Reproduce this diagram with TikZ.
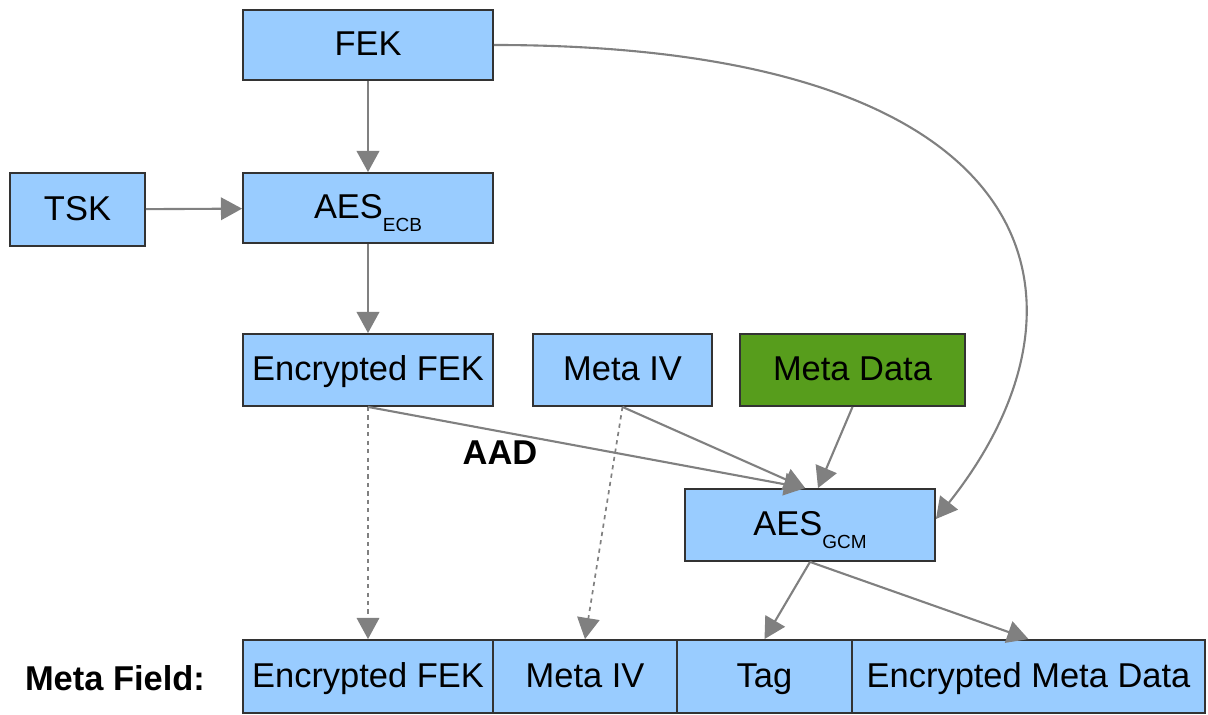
\documentclass[tikz,border=0pt]{standalone}
\usepackage{fontspec}
\setmainfont{Liberation Sans}
\usetikzlibrary{arrows.meta}
\definecolor{boxblue}{HTML}{99CCFF}
\definecolor{boxgreen}{HTML}{579D1C}
\definecolor{boxline}{HTML}{333333}
\definecolor{arrgray}{HTML}{808080}
\newcommand{\aesmode}[1]{AES\raisebox{-9pt}{\fontsize{13.5}{15}\selectfont #1}}

\begin{document}
\begin{tikzpicture}[
  x=0.025cm, y=-0.025cm,
  blk/.style={
    draw=boxline, fill=boxblue, line width=1.3pt,
    inner sep=0pt, minimum width=6.25cm, minimum height=1.8cm,
    text height=17.5pt, text depth=2pt,
    font=\fontsize{24.5}{28}\selectfont
  },
  arr/.style={
    draw=arrgray, line width=1.5pt,
    -{Triangle[length=15pt,width=16pt]}
  },
  dotarr/.style={arr, line width=1.2pt, dash pattern=on 3pt off 3pt}
]
  \useasboundingbox (0,0) rectangle (1208,715);
  \node[blk, minimum height=1.75cm] (fek) at (368,45) {FEK};
  \node[blk, minimum width=3.375cm, minimum height=1.825cm] (tsk) at (77.5,209.5) {TSK};
  \node[blk, minimum height=1.75cm] (ecb) at (368,208) {\aesmode{ECB}};
  \node[blk] (encfek) at (368,370) {Encrypted FEK};
  \node[blk, minimum width=4.475cm] (metaiv) at (622.5,370) {Meta IV};
  \node[blk, minimum width=5.625cm, fill=boxgreen] (metadata) at (852.5,370) {Meta Data};
  \node[blk] (gcm) at (810,525) {\aesmode{GCM}};
  \foreach \nm/\cx/\w/\txt in {fa/368/6.25/Encrypted FEK,fb/585/4.6/Meta IV,fc/764.5/4.375/Tag,fd/1028.5/8.825/Encrypted Meta Data} {
    \node[blk, minimum width=\w cm, minimum height=1.825cm] (\nm) at (\cx,676.5) {\txt};
  }
  \node[font=\bfseries\fontsize{24.5}{28}\selectfont] (metafield) at (115,678) {Meta Field:};
  \node[font=\bfseries\fontsize{24.5}{28}\selectfont] (aad) at (500,453) {AAD};
  \draw[arr] (fek) -- (ecb);
  \draw[arr] (tsk) -- (ecb);
  \draw[arr] (ecb) -- (encfek);
  \draw[dotarr] (encfek) -- (fa);
  \draw[dotarr] (metaiv.south) -- (fb.north);
  \draw[arr] (encfek.south) -- ([xshift=-0.12cm]gcm.north);
  \draw[arr] (metaiv.south) -- ([xshift=-0.12cm]gcm.north);
  \draw[arr] (metadata.south) -- ([xshift=0.2cm]gcm.north);
  \draw[arr] (fek.east) .. controls (1050,45) and (1110,300) .. ([yshift=0.15cm]gcm.east);
  \draw[arr] (gcm.south) -- (fc.north);
  \draw[arr] (gcm.south) -- (fd.north);
\end{tikzpicture}
\end{document}
